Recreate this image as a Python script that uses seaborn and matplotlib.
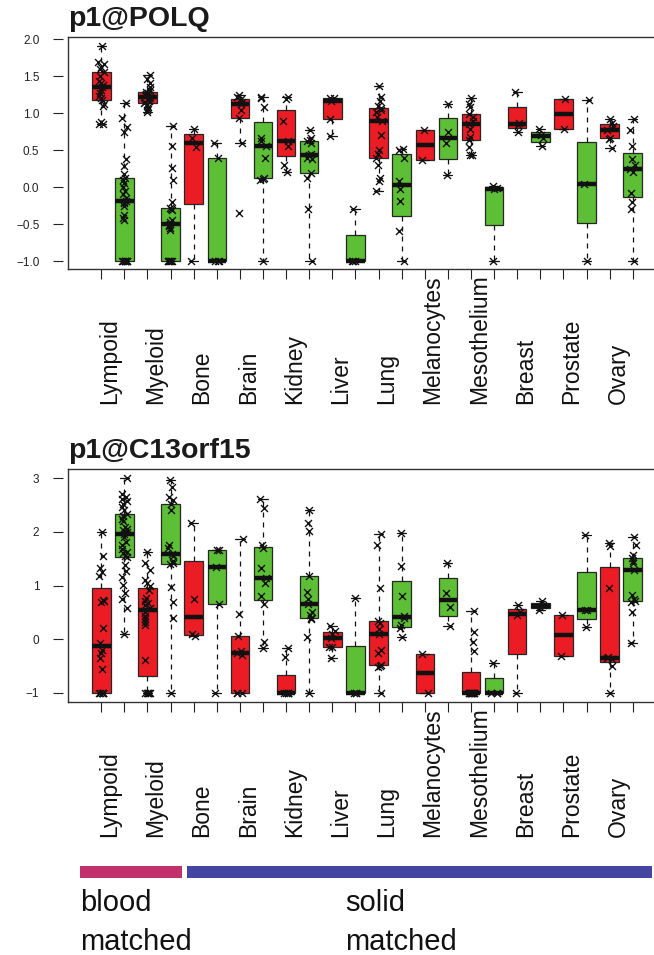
import numpy as np
import pandas as pd
import matplotlib
matplotlib.use("Agg")
import matplotlib.pyplot as plt
import matplotlib.transforms as mtransforms
from matplotlib.patches import Rectangle
import seaborn as sns

# ---------------------------------------------------------------- data
tissues = ["Lympoid", "Myeloid", "Bone", "Brain", "Kidney", "Liver", "Lung",
           "Melanocytes", "Mesothelium", "Breast", "Prostate", "Ovary"]

# p1@POLQ expression per tissue, red and green sample sets
polq_red = [
    [0.85, 0.86, 0.88, 1.10, 1.13, 1.18, 1.20, 1.23, 1.27, 1.31, 1.35, 1.38, 1.41,
     1.44, 1.50, 1.56, 1.60, 1.63, 1.66, 1.69, 1.91],
    [1.02, 1.04, 1.06, 1.08, 1.11, 1.134, 1.15, 1.17, 1.19, 1.21, 1.224, 1.24, 1.25,
     1.26, 1.27, 1.287, 1.31, 1.35, 1.41, 1.46, 1.517],
    [-1.0, 0.54, 0.66, 0.78],
    [-0.355, 0.60, 0.939, 1.04, 1.12, 1.15, 1.192, 1.22, 1.246],
    [0.21, 0.30, 0.55, 0.624, 0.90, 1.19, 1.22],
    [0.69, 0.92, 1.165, 1.20, 1.21],
    [-0.05, 0.085, 0.12, 0.30, 0.398, 0.45, 0.50, 0.70, 0.899, 0.95, 1.02, 1.05,
     1.066, 1.10, 1.16, 1.22, 1.368],
    [0.367, 0.77],
    [0.43, 0.44, 0.54, 0.637, 0.68, 0.78, 0.85, 0.90, 0.95, 0.985, 1.08, 1.12, 1.21],
    [0.75, 0.845, 0.87, 1.29],
    [0.78, 1.19],
    [0.53, 0.65, 0.67, 0.773, 0.83, 0.87, 0.92],
]
polq_green = [
    [-1.0] * 8 + [-0.45, -0.42, -0.38, -0.25, -0.22, -0.20, -0.19, -0.15, -0.10, -0.05,
                  0.00, 0.05, 0.10, 0.128, 0.18, 0.28, 0.38, 0.75, 0.82, 0.93, 1.14],
    [-1.0] * 6 + [-0.58, -0.55, -0.52, -0.51, -0.50, -0.47, -0.45, -0.31, -0.29, -0.278,
                  -0.20, 0.09, 0.26, 0.56, 0.83],
    [-1.0, -1.0, -1.0, 0.40, 0.60],
    [-1.0, 0.10, 0.11, 0.13, 0.40, 0.56, 0.62, 0.66, 1.09, 1.20, 1.22],
    [-1.0, -0.30, 0.13, 0.195, 0.38, 0.40, 0.43, 0.45, 0.60, 0.624, 0.64, 0.66, 0.773],
    [-1.0, -1.0, -1.0, -0.30],
    [-1.0, -0.594, -0.19, -0.03, 0.08, 0.40, 0.50, 0.515],
    [0.16, 0.60, 0.74, 1.12],
    [-1.0, -0.03, -0.01, 0.01],
    [0.556, 0.67, 0.70, 0.79],
    [-1.0, 0.04, 1.18],
    [-1.0, -0.296, -0.20, -0.076, 0.20, 0.241, 0.30, 0.376, 0.556, 0.773, 0.917],
]

# p1@C13orf15 expression per tissue, red and green sample sets
c13_red = [
    [-1.0] * 6 + [-0.55, -0.34, -0.25, -0.20, -0.06, 0.22, 0.70, 0.72, 0.73, 1.18,
                  1.25, 1.32, 1.55, 2.0],
    [-1.0] * 6 + [-0.385, 0.27, 0.33, 0.38, 0.43, 0.50, 0.59, 0.63, 0.68, 0.72, 0.77,
                  0.92, 0.99, 1.04, 1.10, 1.30, 1.42, 1.62],
    [0.07, 0.09, 0.75, 2.16],
    [-1.0, -1.0, -1.0, -0.30, -0.26, -0.22, 0.062, 0.47, 1.87],
    [-1.0] * 5 + [-0.33, -0.17],
    [-0.342, -0.15, -0.148, 0.019, 0.10, 0.16, 0.248],
    [-1.0, -0.52, -0.50, -0.478, -0.26, -0.20, 0.093, 0.19, 0.30, 0.341, 0.96, 1.76,
     1.956],
    [-1.0, -0.273],
    [-1.0] * 11 + [-0.212, -0.044, 0.142, 0.533],
    [-1.0, 0.454, 0.50, 0.64],
    [-0.311, 0.453],
    [-1.0, -0.50, -0.36, -0.35, -0.335, 0.95, 1.73, 1.79],
]
c13_green = [
    [0.10, 0.59, 0.76, 0.86, 1.01, 1.17, 1.28, 1.39, 1.528, 1.56, 1.60, 1.63, 1.68,
     1.75, 1.82, 1.90, 1.956, 2.0, 2.03, 2.06, 2.10, 2.20, 2.25, 2.30, 2.335, 2.40,
     2.46, 2.52, 2.57, 2.62, 2.66, 2.70, 3.0],
    [-1.0, 0.39, 0.70, 0.97, 1.409, 1.42, 1.45, 1.55, 1.584, 1.70, 1.75, 2.40, 2.521,
     2.60, 2.65, 2.83, 2.97],
    [-1.0, 0.66, 1.34, 1.655, 1.665],
    [-0.17, -0.05, 0.65, 0.80, 1.05, 1.137, 1.32, 1.70, 1.75, 2.45, 2.61],
    [-1.0, 0.043, 0.378, 0.391, 0.45, 0.50, 0.664, 0.76, 0.88, 1.18, 2.02, 2.17, 2.41],
    [-1.0, -1.0, -1.0, 0.764],
    [0.043, 0.21, 0.26, 0.40, 0.43, 0.81, 1.36, 1.975],
    [0.254, 0.61, 0.857, 1.416],
    [-1.0, -1.0, -1.0, -0.44],
    [0.55, 0.60, 0.64, 0.72],
    [0.235, 0.54, 0.55, 1.943],
    [-0.074, 0.516, 0.70, 0.714, 0.76, 0.83, 1.285, 1.42, 1.45, 1.521, 1.58, 1.757,
     1.912],
]

polq_ticks = [-1.0, -0.5, 0.0, 0.5, 1.0, 1.5, 2.0]
c13_ticks = [-1, 0, 1, 2, 3]

RED = "#EC1C24"
GREEN = "#5DBF35"
EDGE = "#262626"


def tukey_summary(values, coef=3.0):
    """Whisker ends, hinges and median the way R's boxplot.stats builds them."""
    x = np.sort(np.asarray(values, dtype=float))
    n = len(x)
    n4 = np.floor((n + 3) / 2) / 2
    d = np.array([1, n4, (n + 1) / 2, n + 1 - n4, n]) - 1
    five = 0.5 * (x[np.floor(d).astype(int)] + x[np.ceil(d).astype(int)])
    iqr = five[3] - five[1]
    inside = x[(x >= five[1] - coef * iqr) & (x <= five[3] + coef * iqr)]
    return [inside.min(), five[1], five[2], five[3], inside.max()]


def long_tables(red, green):
    slots, colors, box_rows, pt_rows = [], [], [], []
    for i in range(len(tissues)):
        for j, (series, col) in enumerate(((red, RED), (green, GREEN))):
            slot = f"s{2 * i + j:02d}"
            slots.append(slot)
            colors.append(col)
            for v in tukey_summary(series[i]):
                box_rows.append((slot, v))
            for v in series[i]:
                pt_rows.append((slot, v))
    box_df = pd.DataFrame(box_rows, columns=["slot", "value"])
    pt_df = pd.DataFrame(pt_rows, columns=["slot", "value"])
    return slots, colors, box_df, pt_df


# ---------------------------------------------------------------- figure
sns.set_style("white")
plt.rcParams["font.family"] = ["Liberation Sans", "DejaVu Sans"]

W, H = 654, 955
fig = plt.figure(figsize=(W / 100, H / 100), dpi=100)

x_left, x_right = -1.44, 24.44
panels = [
    ("p1@POLQ", polq_red, polq_green, polq_ticks, (-1.108, 2.031), 37, 269),
    ("p1@C13orf15", c13_red, c13_green, c13_ticks, (-1.168, 3.173), 469, 702),
]

ax_left_px, ax_right_px = 68, 666
np.random.seed(7)

for title, red, green, yticks, ylim, top_px, bot_px in panels:
    ax = fig.add_axes([ax_left_px / W, 1 - bot_px / H,
                       (ax_right_px - ax_left_px) / W, (bot_px - top_px) / H])
    slots, colors, box_df, pt_df = long_tables(red, green)

    sns.boxplot(data=box_df, x="slot", y="value", hue="slot", order=slots,
                hue_order=slots, palette=colors, saturation=1, width=0.8,
                whis=(0, 100), showfliers=False, linecolor=EDGE, linewidth=0.9,
                legend=False, ax=ax,
                medianprops={"linewidth": 3.2, "color": "#111111"},
                whiskerprops={"linestyle": (0, (4, 4)), "color": "#111111"},
                capprops={"color": "#111111"})
    sns.stripplot(data=pt_df, x="slot", y="value", order=slots, color="#111111",
                  marker="x", size=5, linewidth=1.0, jitter=0.13, ax=ax, zorder=4)

    ax.set_xlim(x_left, x_right)
    ax.set_ylim(*ylim)
    ax.set_xlabel("")
    ax.set_ylabel("")
    for s in ax.spines.values():
        s.set_visible(True)
        s.set_color("#333333")
        s.set_linewidth(1.0)

    # x ticks on every box, tissue names written separately
    ax.set_xticks(range(len(slots)))
    ax.set_xticklabels([])
    ax.tick_params(axis="x", bottom=True, length=7.5, width=0.8, color="#222222",
                   direction="out")
    trans = mtransforms.blended_transform_factory(ax.transData, ax.transAxes)
    label_y = -135 / (bot_px - top_px)
    for i, name in enumerate(tissues):
        ax.text(2 * i + 0.36, label_y, name, transform=trans, rotation=90,
                rotation_mode="anchor", ha="left", va="center", fontsize=16.5,
                color="#111111")

    # y axis drawn slightly detached from the frame
    ax.tick_params(axis="y", left=False, labelleft=False)
    sec = ax.secondary_yaxis(-5 / (ax_right_px - ax_left_px))
    for s in sec.spines.values():
        s.set_visible(False)
    sec.set_yticks(yticks)
    sec.tick_params(axis="y", length=7.5, width=0.8, color="#222222", pad=9.5,
                    labelsize=8.5, labelcolor="#222222")

    ax.set_title(title, loc="left", fontsize=20.5, fontweight="bold", pad=8,
                 color="#1a1a1a")

# ---------------------------------------------------------------- group bars
bar_y0, bar_h = 866, 12
fig.add_artist(Rectangle((80 / W, 1 - (bar_y0 + bar_h) / H), (182 - 80) / W, bar_h / H,
                         transform=fig.transFigure, facecolor="#C2306B",
                         edgecolor="none"))
fig.add_artist(Rectangle((187 / W, 1 - (bar_y0 + bar_h) / H), (652 - 187) / W, bar_h / H,
                         transform=fig.transFigure, facecolor="#4545A2",
                         edgecolor="none"))
for x_px, word in ((80, "blood"), (345, "solid")):
    fig.text(x_px / W, 1 - 911 / H, word, fontsize=21, va="baseline", ha="left",
             color="#111111")
    fig.text(x_px / W, 1 - 950 / H, "matched", fontsize=21, va="baseline", ha="left",
             color="#111111")

fig.savefig("out.png", dpi=100)
